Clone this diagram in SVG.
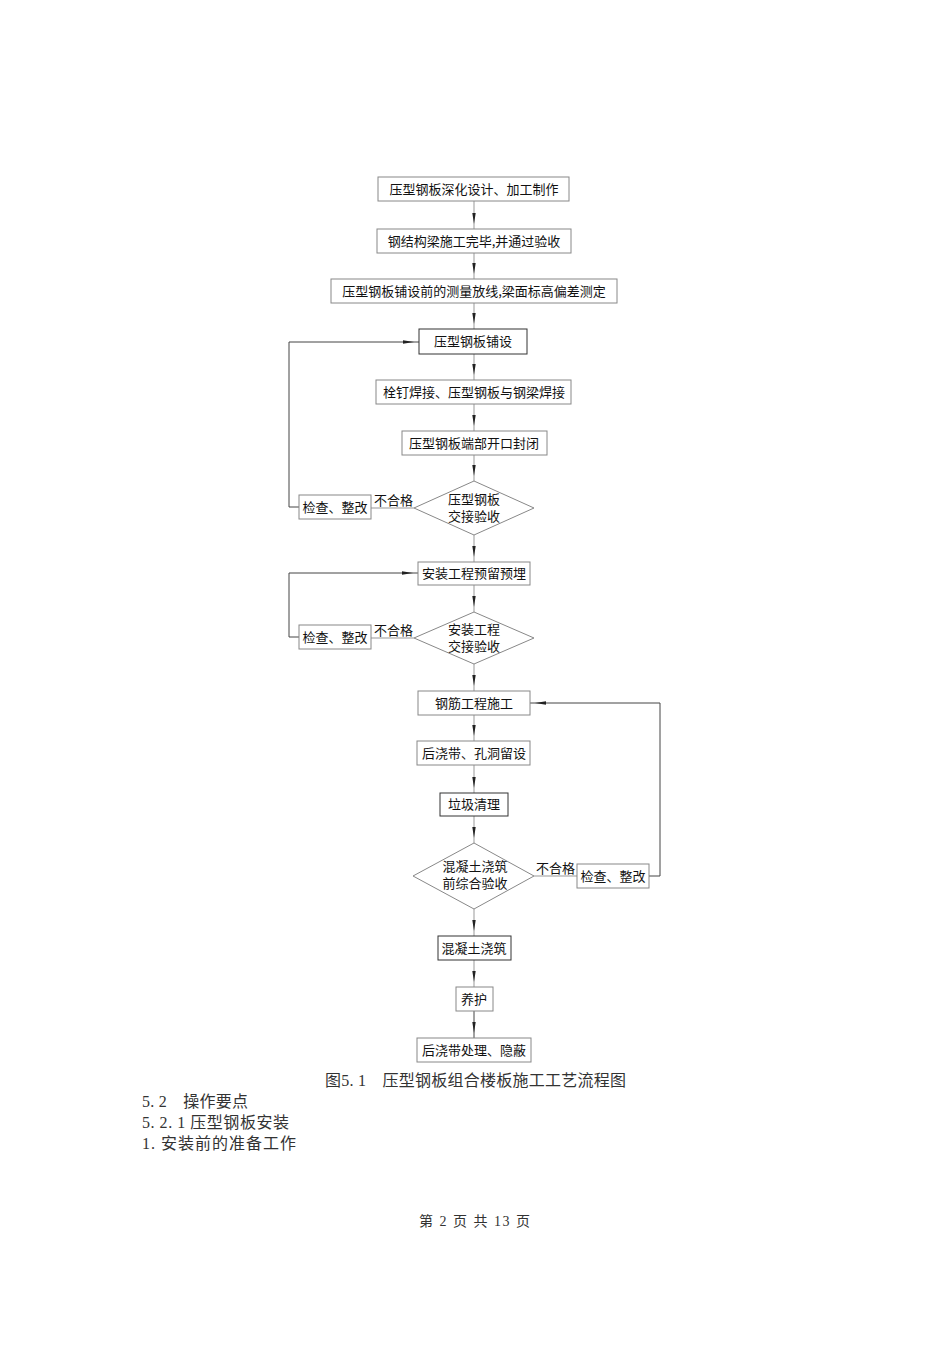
<svg xmlns="http://www.w3.org/2000/svg" width="950" height="1345" viewBox="0 0 950 1345">
<style>
.b{fill:#fff;stroke:#888;stroke-width:1}
.bd{fill:#fff;stroke:#333;stroke-width:1}
.t{font-family:"Noto Sans CJK SC","Liberation Sans",sans-serif;font-size:13px;fill:#111;text-anchor:middle}
.l{font-family:"Noto Sans CJK SC","Liberation Sans",sans-serif;font-size:13px;fill:#111}
.c{fill:none;stroke:#999;stroke-width:1}
.cd{fill:none;stroke:#444;stroke-width:1}
.s{font-family:"Liberation Serif","Noto Sans CJK SC",serif;font-size:16px;fill:#333}
</style>
<defs>
<marker id="a" markerUnits="userSpaceOnUse" markerWidth="20" markerHeight="6" refX="16" refY="2.5" orient="auto">
<path d="M0,0.8 L11,2.5 L0,4.2 z" fill="#222"/>
</marker>
</defs>
<rect width="950" height="1345" fill="#fff"/>
<g id="connectors">
<path class="c" d="M474,201 V229" marker-end="url(#a)"/>
<path class="c" d="M474,253 V279" marker-end="url(#a)"/>
<path class="c" d="M474,303 V329" marker-end="url(#a)"/>
<path class="c" d="M474,354 V380" marker-end="url(#a)"/>
<path class="c" d="M474,404 V431" marker-end="url(#a)"/>
<path class="c" d="M474,455 V481" marker-end="url(#a)"/>
<path class="c" d="M474,535 V562" marker-end="url(#a)"/>
<path class="c" d="M474,585 V612" marker-end="url(#a)"/>
<path class="c" d="M474,664 V691" marker-end="url(#a)"/>
<path class="c" d="M474,715 V741" marker-end="url(#a)"/>
<path class="c" d="M474,765 V793" marker-end="url(#a)"/>
<path class="c" d="M474,816 V843" marker-end="url(#a)"/>
<path class="c" d="M474,909 V936" marker-end="url(#a)"/>
<path class="c" d="M474,960 V987" marker-end="url(#a)"/>
<path class="cd" d="M474,1011 V1038" marker-end="url(#a)"/>
<path class="c" d="M414,508 H371"/>
<path class="cd" d="M299,507 H289 V342 H419" marker-end="url(#a)"/>
<path class="c" d="M414,638 H371"/>
<path class="cd" d="M299,637 H289 V573 H418" marker-end="url(#a)"/>
<path class="c" d="M534,876 H577"/>
<path class="cd" d="M649,876 H660 V703 H530" marker-end="url(#a)"/>
<text class="l" x="374" y="505">不合格</text>
<text class="l" x="374" y="635">不合格</text>
<text class="l" x="536" y="873">不合格</text>
</g>
<g id="n1"><rect class="b" x="378" y="177" width="191" height="24"/><text class="t" x="474" y="194">压型钢板深化设计、加工制作</text></g>
<g id="n2"><rect class="b" x="377" y="229" width="194" height="24"/><text class="t" x="474" y="246">钢结构梁施工完毕,并通过验收</text></g>
<g id="n3"><rect class="b" x="331" y="279" width="286" height="24"/><text class="t" x="474" y="296">压型钢板铺设前的测量放线,梁面标高偏差测定</text></g>
<g id="n4"><rect class="bd" x="419" y="329" width="108" height="25"/><text class="t" x="473" y="346">压型钢板铺设</text></g>
<g id="n5"><rect class="b" x="376" y="380" width="195" height="24"/><text class="t" x="474" y="397">栓钉焊接、压型钢板与钢梁焊接</text></g>
<g id="n6"><rect class="b" x="402" y="431" width="145" height="24"/><text class="t" x="474" y="448">压型钢板端部开口封闭</text></g>
<g id="d1"><polygon class="b" points="474,481 534,508 474,535 414,508"/><text class="t" x="474" y="504">压型钢板</text><text class="t" x="474" y="521">交接验收</text></g>
<g id="r1"><rect class="b" x="299" y="495" width="72" height="24"/><text class="t" x="335" y="512">检查、整改</text></g>
<g id="n7"><rect class="b" x="418" y="562" width="112" height="23"/><text class="t" x="474" y="578">安装工程预留预埋</text></g>
<g id="d2"><polygon class="b" points="474,612 534,638 474,664 414,638"/><text class="t" x="474" y="634">安装工程</text><text class="t" x="474" y="651">交接验收</text></g>
<g id="r2"><rect class="b" x="299" y="625" width="72" height="24"/><text class="t" x="335" y="642">检查、整改</text></g>
<g id="n8"><rect class="b" x="418" y="691" width="112" height="24"/><text class="t" x="474" y="708">钢筋工程施工</text></g>
<g id="n9"><rect class="b" x="417" y="741" width="113" height="24"/><text class="t" x="474" y="758">后浇带、孔洞留设</text></g>
<g id="n10"><rect class="bd" x="440" y="793" width="68" height="23"/><text class="t" x="474" y="809">垃圾清理</text></g>
<g id="d3"><polygon class="b" points="474,843 534,876 474,909 413,876"/><text class="t" x="475" y="871">混凝土浇筑</text><text class="t" x="475" y="888">前综合验收</text></g>
<g id="r3"><rect class="b" x="577" y="864" width="72" height="24"/><text class="t" x="613" y="881">检查、整改</text></g>
<g id="n11"><rect class="bd" x="438" y="936" width="73" height="24"/><text class="t" x="474" y="953">混凝土浇筑</text></g>
<g id="n12"><rect class="b" x="456" y="987" width="37" height="24"/><text class="t" x="474" y="1004">养护</text></g>
<g id="n13"><rect class="b" x="417" y="1038" width="114" height="24"/><text class="t" x="474" y="1055">后浇带处理、隐蔽</text></g>
<text class="s" x="325" y="1086" textLength="301" lengthAdjust="spacing">图5. 1　压型钢板组合楼板施工工艺流程图</text>
<text class="s" x="142" y="1107" textLength="106" lengthAdjust="spacing">5. 2　操作要点</text>
<text class="s" x="142" y="1128" textLength="147" lengthAdjust="spacing">5. 2. 1 压型钢板安装</text>
<text class="s" x="142" y="1149" textLength="154" lengthAdjust="spacing">1.  安装前的准备工作</text>
<text class="s" x="419" y="1226" style="font-size:14px" textLength="111" lengthAdjust="spacing">第 2 页 共 13 页</text>
</svg>
